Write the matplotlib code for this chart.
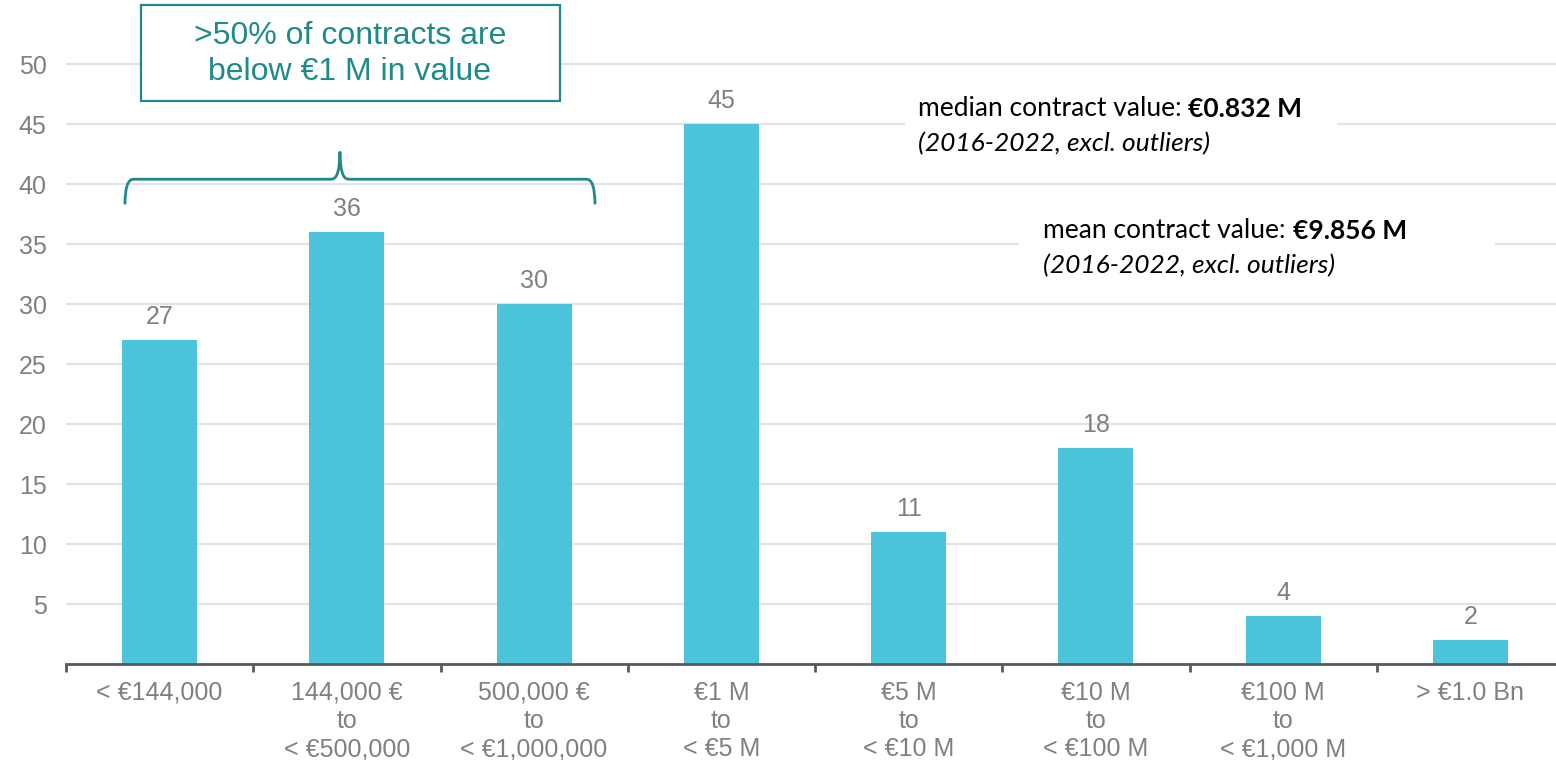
import matplotlib
matplotlib.use("Agg")
import matplotlib.pyplot as plt
from matplotlib.patches import Rectangle, PathPatch
from matplotlib.path import Path

# contract value bands and number of contracts in each
categories = ["< €144,000", "144,000 €\nto\n< €500,000", "500,000 €\nto\n< €1,000,000",
              "€1 M\nto\n< €5 M", "€5 M\nto\n< €10 M", "€10 M\nto\n< €100 M",
              "€100 M\nto\n< €1,000 M", "> €1.0 Bn"]
counts = [27, 36, 30, 45, 11, 18, 4, 2]
y_ticks = [5, 10, 15, 20, 25, 30, 35, 40, 45, 50]

BAR = "#4bc4dc"
TEAL = "#1f8a8a"
GREY = "#808080"
AXIS = "#595959"
GRID = "#e3e3e3"

plt.rcParams["font.family"] = ["Liberation Sans", "DejaVu Sans"]

fig = plt.figure(figsize=(15.56, 7.6), dpi=100)
ax = fig.add_axes([66 / 1556, 96 / 760, 1498 / 1556, 660 / 760])

x = range(len(categories))
ax.bar(x, counts, width=0.4, color=BAR, zorder=3)
for xi, v in zip(x, counts):
    ax.annotate(str(v), (xi, v), xytext=(0, 8), textcoords="offset points",
                ha="center", va="bottom", fontsize=18, color=GREY)

ax.set_xlim(-0.5, len(categories) - 0.5)
ax.set_ylim(0, 55)
ax.set_yticks(y_ticks)
ax.tick_params(axis="y", length=0, pad=14, labelsize=18, labelcolor=GREY)
ax.yaxis.grid(True, color=GRID, linewidth=1.5, zorder=0)
ax.set_axisbelow(True)

ax.set_xticks(list(x))
ax.set_xticklabels(categories, fontsize=18, color=GREY, linespacing=1.22, va="top")
ax.tick_params(axis="x", which="major", length=0, pad=12)
ax.set_xticks([i - 0.5 for i in range(len(categories) + 1)], minor=True)
ax.tick_params(axis="x", which="minor", length=6, width=2, color=AXIS, direction="out")

for s in ["top", "right", "left"]:
    ax.spines[s].set_visible(False)
ax.spines["bottom"].set_color(AXIS)
ax.spines["bottom"].set_linewidth(2)
ax.spines["bottom"].set_zorder(4)

# callout box
fig.patches.append(Rectangle((141 / 1556, 1 - 101 / 760), 419 / 1556, 96 / 760,
                             transform=fig.transFigure, facecolor="white",
                             edgecolor=TEAL, linewidth=1.6, zorder=5))
fig.text(350 / 1556, 1 - 54 / 760, ">50% of contracts are\nbelow €1 M in value",
         ha="center", va="center", fontsize=23, color=TEAL, linespacing=1.25, zorder=6)

# curly brace spanning the first three bands
x0, xm, x1 = -0.185, 0.963, 2.325
yh, ye, yt = 40.4, 38.3, 42.7
dx = 0.045
verts = [(x0, ye), (x0, yh), (x0 + dx, yh), (xm - dx, yh), (xm, yh), (xm, yt),
         (xm, yh), (xm + dx, yh), (x1 - dx, yh), (x1, yh), (x1, ye)]
codes = [Path.MOVETO, Path.CURVE3, Path.CURVE3, Path.LINETO, Path.CURVE3, Path.CURVE3,
         Path.CURVE3, Path.CURVE3, Path.LINETO, Path.CURVE3, Path.CURVE3]
ax.add_patch(PathPatch(Path(verts, codes), facecolor="none", edgecolor=TEAL,
                       linewidth=2, zorder=5, clip_on=False))

# summary statistics
def stat_note(xt, yt_, label, value, rect):
    ax.add_patch(Rectangle(rect[0], rect[1], rect[2], facecolor="white",
                           edgecolor="none", zorder=1))
    t = ax.text(xt, yt_, label, fontsize=19, family="Lato", color="black",
                ha="left", va="baseline", zorder=6)
    ax.annotate(value, xy=(1, 0), xycoords=t, fontsize=19, family="Lato",
                fontweight="bold", ha="left", va="bottom", zorder=6)
    ax.text(xt, yt_ - 2.95, "(2016-2022, excl. outliers)", fontsize=19, family="Lato",
            style="italic", ha="left", va="baseline", zorder=6)

stat_note(4.05, 45.67, "median contract value: ", "€0.832 M", ((3.98, 42.5), 2.31, 5))
stat_note(4.72, 35.5, "mean contract value: ", "€9.856 M", ((4.59, 33.5), 2.54, 3))

fig.savefig("out.png", dpi=100)
